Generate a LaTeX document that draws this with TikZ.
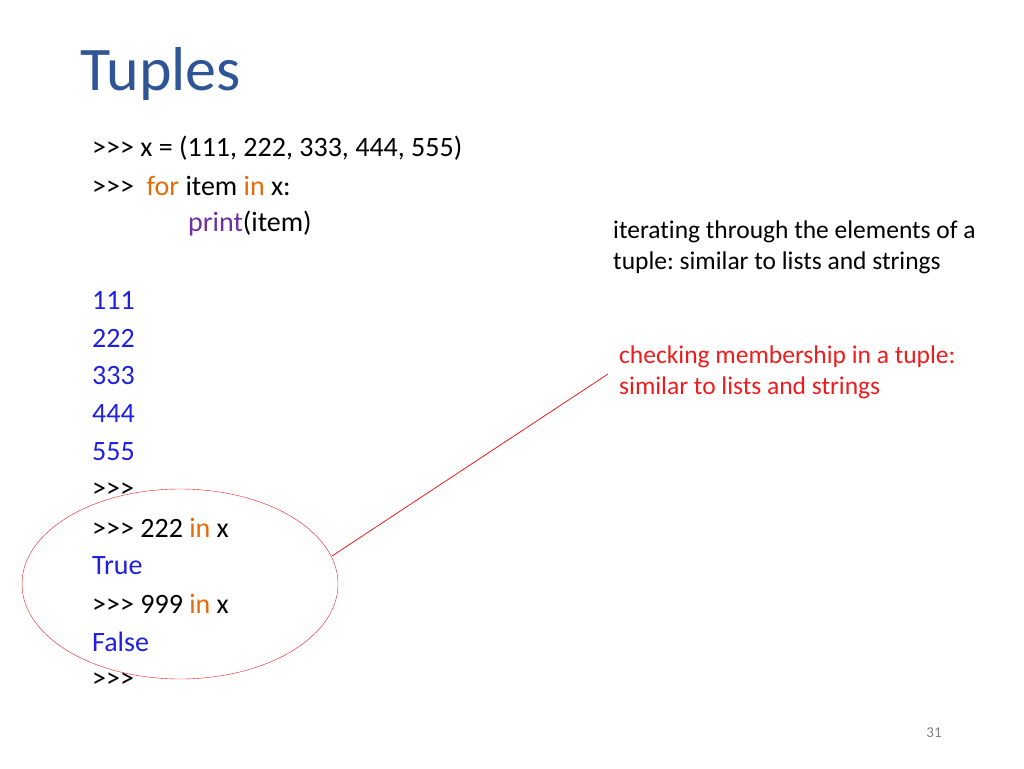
\documentclass[tikz,border=0pt]{standalone}
\usepackage{fontspec}
\setmainfont[Ligatures={NoCommon}]{Carlito}
\usetikzlibrary{shapes.geometric}
\definecolor{titleblue}{HTML}{2F5597}
\definecolor{kw}{HTML}{E46C0A}
\definecolor{pr}{HTML}{7030A0}
\definecolor{outb}{HTML}{1F1FE0}
\definecolor{redt}{HTML}{EE1C1C}
\newcommand{\pp}{\mbox{>}\mbox{>}\mbox{>}}
\frenchspacing
\begin{document}
\begin{tikzpicture}[x=1pt,y=-1pt,
  code/.style={anchor=west,inner sep=0pt,font=\fontsize{28}{32}\selectfont},
  note/.style={anchor=west,inner sep=0pt,font=\fontsize{25.5}{28}\selectfont}]
\useasboundingbox (0,0) rectangle (1024,768);
\node[anchor=west,inner sep=0pt,font=\fontsize{62}{70}\selectfont,text=titleblue] (title) at (80,74) {Tuples};
\node[code] (l1) at (92,148) {\pp{} x = (111, 222, 333, 444, 555)};
\node[code] (l2) at (92,186) {\pp{} \ \textcolor{kw}{for} item \textcolor{kw}{in} x:};
\node[code] (l3) at (188,224) {\textcolor{pr}{print}(item)};
\node[code,text=outb] (o1) at (92,300) {111};
\node[code,text=outb] (o2) at (92,338) {222};
\node[code,text=outb] (o3) at (92,376) {333};
\node[code,text=outb] (o4) at (92,414) {444};
\node[code,text=outb] (o5) at (92,452) {555};
\node[code] (p1) at (92,490) {\pp};
\node[code] (p2) at (92,528) {\pp{} 222 \textcolor{kw}{in} x};
\node[code,text=outb] (t) at (92,566) {True};
\node[code] (p3) at (92,604) {\pp{} 999 \textcolor{kw}{in} x};
\node[code,text=outb] (f) at (92,642) {False};
\node[code] (p4) at (92,680) {\pp};
\node[note] (n1) at (613,232) {iterating through the elements of a};
\node[note] (n2) at (613,263) {tuple: similar to lists and strings};
\node[note,text=redt] (r1) at (619,357) {checking membership in a tuple:};
\node[note,text=redt] (r2) at (619,388) {similar to lists and strings};
\node[draw=redt,ellipse,minimum width=316,minimum height=190,inner sep=0pt] (ell) at (180,584) {};
\coordinate (ellpt) at (332,556);
\coordinate (tip) at (608,374);
\draw[redt,line width=0.8pt] (ellpt) -- (tip);
\node[anchor=center,inner sep=0pt,font=\fontsize{15}{17}\selectfont,text=gray] (pg) at (934,733) {31};
\end{tikzpicture}
\end{document}
